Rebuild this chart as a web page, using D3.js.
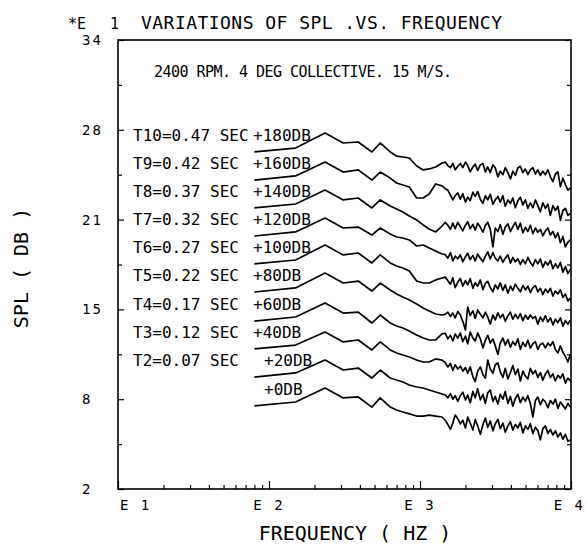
<!DOCTYPE html>
<html>
<head>
<meta charset="utf-8">
<script src="https://cdn.jsdelivr.net/npm/d3@7"></script>
<style>
  body { margin: 0; background: #fff; }
  text { font-family: "DejaVu Sans Mono", monospace; fill: #000; }
  .tick line { stroke: #000; stroke-width: 1.2; }
</style>
</head>
<body>
<div id="chart"></div>
<script>
var svgWidth = 587;
var svgHeight = 545;

var margin = { top: 40, right: 16, bottom: 56, left: 118 };
var width = svgWidth - margin.left - margin.right;
var height = svgHeight - margin.top - margin.bottom;

// frequency grid (Hz), shared by every curve
var freqs = [80, 150, 235, 310, 390, 480, 545, 635, 700, 770, 850, 950, 1050, 1150, 1270, 1400,
  1470, 1530, 1590, 1650, 1710, 1780, 1850, 1920, 2000, 2070, 2150, 2240, 2320, 2410, 2510, 2610,
  2710, 2810, 2920, 3040, 3150, 3280, 3400, 3540, 3670, 3820, 3970, 4120, 4280, 4450, 4620, 4800,
  4990, 5180, 5380, 5590, 5810, 6030, 6270, 6510, 6770, 7030, 7300, 7590, 7880, 8190, 8510, 8840,
  9180, 9540, 9900];

// SPL (dB) of each time slice, before the display offset
var splT1 = [79.2, 82, 92, 84.9, 85.6, 78.4, 84.9, 78.4, 76.3, 74.9, 73.5, 72, 72, 72.7, 72, 71.3,
  69, 66, 62.5, 67, 72.7, 70, 66.5, 69, 63.5, 71.3, 67, 62, 69.5, 65, 59, 66, 70.5, 64, 68.5, 61.5,
  66.5, 69.5, 63, 67, 60.5, 65, 68, 62, 66, 63.5, 67.5, 60, 65, 62.5, 66.5, 59.5, 64, 61.5, 55, 63,
  65, 59.5, 62.5, 58.5, 61.5, 57, 60, 55.5, 59, 54, 54.9];
var splT2 = [79.8, 82.7, 91.9, 84.8, 86.2, 79.1, 84.8, 79.1, 77.7, 76.3, 74.1, 72.7, 72, 70.6, 69.1, 67.7,
  67, 65, 68, 64, 66.5, 62.5, 66.5, 69, 63.5, 67, 61.5, 69.5, 65, 71.5, 63.5, 67.5, 61, 68.5, 70.5, 62.5,
  66, 60.5, 67.5, 64, 69.5, 61, 66, 59, 64.5, 67.5, 61.5, 65.5, 62.5, 66.5, 61, 51.3, 63, 65.5, 60, 64,
  62, 58, 63, 60.5, 64, 57.5, 62, 59.5, 57, 61, 58.5];
var splT3 = [79.8, 82.6, 91.9, 84.8, 86.2, 79.1, 84.8, 79.1, 76.9, 75.5, 74.1, 71.9, 70.5, 70.5, 72.7, 71.9,
  70, 67, 69.5, 64.5, 68.5, 65.5, 67.5, 64, 66.5, 62.5, 67, 60, 56.5, 64, 67, 61.5, 59, 71.9, 65.5, 62.5,
  68.5, 69.8, 63.5, 59.5, 66, 58.5, 63, 68, 61.5, 65.5, 57, 64, 60.5, 58.5, 66, 62, 64.5, 59.5, 63, 57.5,
  62, 64.5, 59.5, 62, 57, 61, 59, 62, 55.5, 59, 57];
var splT4 = [79.7, 82.6, 92.6, 85.4, 86.1, 78.3, 84, 78.3, 76.2, 74.7, 72.6, 69.8, 67.6, 66.2, 66.2, 70.5,
  71, 67, 69.5, 65.5, 70.5, 67.5, 71.2, 65, 69, 63.5, 71.9, 67.5, 65.5, 71.2, 67, 60.5, 66, 69.5, 64, 67,
  62, 56, 64, 67.6, 62.5, 66.5, 61, 65, 62.5, 67, 59.5, 64.5, 61.5, 66, 60.5, 63.5, 65, 59.5, 63, 64,
  60.5, 64, 62, 65, 59.5, 57, 62, 57.5, 54.5, 50.5, 56];
var splT5 = [80.4, 83.3, 93.9, 86.8, 88.2, 81.1, 86.8, 81.8, 79, 76.8, 74.7, 71.8, 69, 66.9, 64.7, 64,
  64.5, 66, 63, 65.4, 62, 66.5, 64, 59.5, 53.3, 69.7, 63.5, 67, 61.5, 67.6, 64.5, 62, 66, 62.5, 57.5, 64,
  60.5, 65.5, 62, 64.5, 59.5, 63.5, 66, 61, 64.5, 61.5, 65, 60, 64, 61, 64, 61.5, 63, 57.5, 62.5, 59.5,
  63.5, 59, 62, 57, 61, 58.5, 62, 56, 60, 57.5, 60.4];
var splT6 = [80.4, 83.2, 93.9, 86.8, 88.2, 81.1, 86.8, 81.1, 78.9, 77.5, 75.4, 68.2, 66.8, 66.8, 69, 70.4,
  71, 68.5, 66, 70.5, 63.5, 67.5, 70, 64.5, 68.5, 65.5, 70, 63, 67, 64.5, 69, 62, 66.5, 68, 63.5, 60.5,
  65.5, 62.5, 67, 61.5, 65.5, 59.5, 64.5, 61.5, 66, 63, 60.5, 65, 62, 64.5, 60, 63.5, 65, 60.5, 63, 58.5,
  62.5, 60, 63, 57.5, 61, 59, 62, 56.5, 59, 54, 56];
var splT7 = [80.3, 83.2, 93.1, 86, 86.7, 81, 86, 81.7, 79.6, 78.9, 77.5, 73.2, 73.9, 71.8, 69.6, 67.5,
  67, 64.5, 68.5, 62.5, 66, 64, 67, 62, 65.5, 68, 63.5, 66.5, 62.5, 67.5, 64.5, 62, 66, 69, 64, 68.5,
  64.5, 62.5, 66, 61.5, 64.5, 67, 61, 65, 62, 64, 60, 63.5, 60.5, 65, 61.5, 59, 63.5, 60.5, 64, 58,
  62, 59.5, 63, 57, 60.5, 57.5, 61.5, 54.5, 58.5, 53.5, 56.5];
var splT8 = [80.3, 83.1, 93.1, 86, 87.4, 80.3, 86, 81.7, 79.6, 77.4, 74.6, 71.7, 68.2, 65.3, 63.2, 67.4,
  70, 68, 65, 69.5, 65.5, 70, 67, 64, 68, 70.5, 65.5, 68.5, 64.5, 69.5, 66.5, 63, 68, 70, 65, 52.5,
  66, 63.5, 68.5, 61.5, 66.5, 69, 63.5, 67, 70, 65, 69.5, 62.5, 66.5, 63.5, 68, 62, 66, 63, 65, 60.5,
  64, 66, 61, 63.5, 59, 62.5, 55.5, 60, 52.5, 56, 57.5];
var splT9 = [80.2, 83.1, 93.1, 85.9, 87.4, 80.2, 85.9, 81.6, 78.1, 76.7, 75.2, 67.4, 67.4, 70.2, 77.4, 76,
  74, 73, 69.5, 66, 69, 71, 66.5, 70.5, 64.5, 68, 65.5, 71.5, 68.5, 72, 66.5, 63.5, 69, 66, 70, 63,
  66, 68.5, 64.5, 69, 61.5, 66, 63.5, 67.5, 60.5, 65.5, 68, 62.5, 66, 60, 64, 60.5, 66, 62, 57.5, 64,
  60, 63, 55, 62, 58.5, 61.5, 51.5, 58.5, 60, 55, 56.5];
var splT10 = [80.2, 83, 93.7, 86.6, 87.3, 80.2, 86.6, 80.2, 77.3, 76.6, 75.9, 70.2, 67.4, 68.1, 69.5, 72.3,
  73, 70.5, 69, 72, 67.5, 70, 72, 69, 73, 70.5, 66, 69.5, 71.5, 67, 71, 72, 66, 69.5, 65.5, 71,
  69, 62.5, 66.5, 64, 69, 65.5, 61, 66.5, 63.5, 69, 70, 65.5, 68, 64, 67.5, 69, 64.5, 67.5, 63.5, 66.5,
  64, 67.5, 62.5, 59, 64.5, 66, 55.5, 61.5, 57, 53, 54.5];

var spectra = [splT1, splT2, splT3, splT4, splT5, splT6, splT7, splT8, splT9, splT10];
var offsets = [0, 20, 40, 60, 80, 100, 120, 140, 160, 180];
var timeLabels = ["", "T2=0.07 SEC", "T3=0.12 SEC", "T4=0.17 SEC", "T5=0.22 SEC", "T6=0.27 SEC",
  "T7=0.32 SEC", "T8=0.37 SEC", "T9=0.42 SEC", "T10=0.47 SEC"];
var offsetLabels = ["+0DB", "+20DB", "+40DB", "+60DB", "+80DB", "+100DB", "+120DB", "+140DB", "+160DB", "+180DB"];

// y axis is SPL in units of 10 dB (the "*E 1" multiplier)
var yTickValues = [2, 8.4, 14.8, 21.2, 27.6, 34];
var yTickLabels = ["2", "8", "15", "21", "28", "34"];
var xDecades = [10, 100, 1000, 10000];
var xDecadeLabels = ["E 1", "E 2", "E 3", "E 4"];

var svg = d3.select("#chart")
  .append("svg")
  .attr("width", svgWidth)
  .attr("height", svgHeight);

var chartGroup = svg.append("g")
  .attr("transform", `translate(${margin.left}, ${margin.top})`);

var xLogScale = d3.scaleLog()
  .domain([10, 10000])
  .range([0, width]);

var yLinearScale = d3.scaleLinear()
  .domain([2, 34])
  .range([height, 0]);

// minor ticks on the log axis
var xMinor = [];
xDecades.slice(0, 3).forEach(function(d) {
  for (var k = 2; k <= 9; k++) xMinor.push(d * k);
});

var yMinor = [];
for (var i = 0; i < yTickValues.length - 1; i++) {
  yMinor.push((yTickValues[i] + yTickValues[i + 1]) / 2);
}

// frame
chartGroup.append("rect")
  .attr("width", width)
  .attr("height", height)
  .attr("fill", "none")
  .attr("stroke", "#000")
  .attr("stroke-width", 1.6);

// bottom ticks (inside)
chartGroup.append("g")
  .attr("transform", `translate(0, ${height})`)
  .call(d3.axisBottom(xLogScale).tickValues(xMinor).tickSize(-4).tickFormat(""))
  .call(g => g.select(".domain").remove());
chartGroup.append("g")
  .attr("transform", `translate(0, ${height})`)
  .call(d3.axisBottom(xLogScale).tickValues(xDecades).tickSize(-8).tickFormat(""))
  .call(g => g.select(".domain").remove());

// left and right ticks (inside)
[0, width].forEach(function(xpos) {
  var dir = xpos === 0 ? d3.axisLeft : d3.axisRight;
  chartGroup.append("g")
    .attr("transform", `translate(${xpos}, 0)`)
    .call(dir(yLinearScale).tickValues(yTickValues).tickSize(-6).tickFormat(""))
    .call(g => g.select(".domain").remove());
  chartGroup.append("g")
    .attr("transform", `translate(${xpos}, 0)`)
    .call(dir(yLinearScale).tickValues(yMinor).tickSize(-4).tickFormat(""))
    .call(g => g.select(".domain").remove());
});

// y tick labels
chartGroup.selectAll(".ylab")
  .data(yTickValues)
  .enter()
  .append("text")
  .attr("x", -36)
  .attr("y", d => yLinearScale(d) + 5)
  .attr("font-size", 14)
  .attr("letter-spacing", 2)
  .text((d, i) => yTickLabels[i]);

// x tick labels, centred on the decade except at the two ends
chartGroup.selectAll(".xlab")
  .data(xDecades)
  .enter()
  .append("text")
  .attr("x", (d, i) => i === 0 ? 2 : (i === 3 ? width + 14 : xLogScale(d)))
  .attr("y", height + 21)
  .attr("text-anchor", (d, i) => i === 0 ? "start" : (i === 3 ? "end" : "middle"))
  .attr("font-size", 14)
  .attr("letter-spacing", 2)
  .text((d, i) => xDecadeLabels[i]);

// the spectra
var line = d3.line()
  .x(d => xLogScale(d[0]))
  .y(d => yLinearScale(d[1]));

spectra.forEach(function(spl, i) {
  var pts = freqs.map((f, j) => [f, (spl[j] + offsets[i]) / 10]);
  chartGroup.append("path")
    .datum(pts)
    .attr("fill", "none")
    .attr("stroke", "#000")
    .attr("stroke-width", 1.7)
    .attr("stroke-linejoin", "round")
    .attr("d", line);

  var y0 = yLinearScale(pts[0][1]);
  if (timeLabels[i]) {
    chartGroup.append("text")
      .attr("x", 15)
      .attr("y", y0 - 11)
      .attr("font-size", 16)
      .text(timeLabels[i]);
  }
  chartGroup.append("text")
    .attr("x", i < 2 ? 146 : 135)
    .attr("y", y0 - 11)
    .attr("font-size", 16)
    .text(offsetLabels[i]);
});

// titles
svg.append("text")
  .attr("x", 68)
  .attr("y", 29)
  .attr("font-size", 15)
  .text("*E");
svg.append("text")
  .attr("x", 110)
  .attr("y", 29)
  .attr("font-size", 15)
  .text("1");
svg.append("text")
  .attr("x", 141)
  .attr("y", 29)
  .attr("font-size", 18)
  .attr("textLength", 361)
  .text("VARIATIONS OF SPL .VS. FREQUENCY");
svg.append("text")
  .attr("x", 154)
  .attr("y", 77)
  .attr("font-size", 15)
  .attr("textLength", 298)
  .text("2400 RPM. 4 DEG COLLECTIVE. 15 M/S.");

svg.append("text")
  .attr("x", 355)
  .attr("y", 540)
  .attr("text-anchor", "middle")
  .attr("font-size", 20)
  .text("FREQUENCY ( HZ )");

svg.append("text")
  .attr("transform", "translate(28, 268) rotate(-90)")
  .attr("text-anchor", "middle")
  .attr("font-size", 20)
  .text("SPL ( DB )");
</script>
</body>
</html>
